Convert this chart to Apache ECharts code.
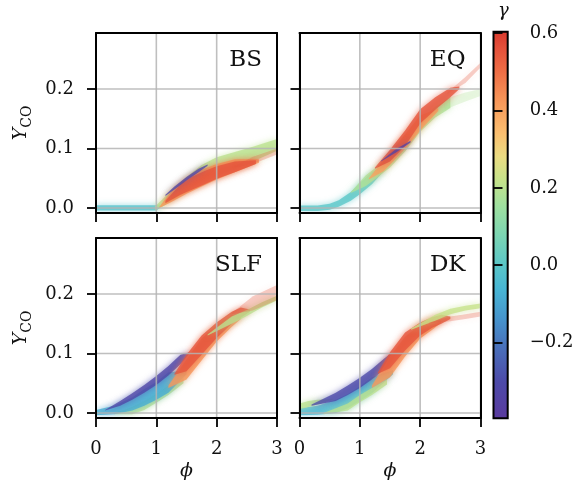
<!DOCTYPE html>
<html>
<head>
<meta charset="utf-8">
<script src="https://cdn.jsdelivr.net/npm/echarts@6/dist/echarts.min.js"></script>
<style>
  html, body { margin: 0; padding: 0; background: #fff; }
  #c { width: 581px; height: 490px; }
</style>
</head>
<body>
<div id="c"></div>
<script>
// ---------- axis ranges and ticks ----------
const PHI_RANGE = [0, 3];
const Y_RANGE = [-0.0085, 0.294];
const GAMMA_RANGE = [-0.396, 0.604];
const phiTicks = [0, 1, 2, 3];
const yTicks = [0, 0.1, 0.2];
const gammaTicks = [-0.2, 0, 0.2, 0.4, 0.6];
const panelNames = ['BS', 'EQ', 'SLF', 'DK'];

// ---------- Y_CO bands: [phi, lower, upper] ----------
// BS
const bsTeal   = [[0, -0.0045, 0.0045], [1.0, -0.0045, 0.0045], [1.06, 0.0, 0.006]];
const bsGreen  = [[0.98, -0.003, 0.003], [1.1, 0.002, 0.014], [1.25, 0.012, 0.03], [1.5, 0.028, 0.052], [1.75, 0.042, 0.072], [2.0, 0.054, 0.085], [2.3, 0.066, 0.094], [2.6, 0.078, 0.103], [3.0, 0.096, 0.116]];
const bsOrange = [[1.05, 0.0, 0.002], [1.25, 0.01, 0.028], [1.5, 0.024, 0.05], [1.75, 0.036, 0.064], [2.0, 0.048, 0.074], [2.3, 0.06, 0.082], [2.7, 0.076, 0.082]];
const bsRed    = [[1.15, 0.008, 0.012], [1.4, 0.022, 0.04], [1.6, 0.031, 0.053], [1.8, 0.04, 0.062], [2.0, 0.049, 0.07], [2.3, 0.06, 0.078], [2.65, 0.074, 0.08]];
const bsRedTail = [[2.3, 0.068, 0.07], [2.6, 0.074, 0.086], [3.0, 0.09, 0.1]];
const bsBlue   = [[1.15, 0.02, 0.022], [1.3, 0.031, 0.036], [1.5, 0.046, 0.052], [1.7, 0.06, 0.066], [1.85, 0.071, 0.073]];
// EQ
const eqTeal   = [[0, -0.005, 0.004], [0.3, -0.005, 0.004], [0.5, -0.003, 0.007], [0.65, 0.002, 0.013], [0.85, 0.012, 0.027], [1.0, 0.023, 0.042], [1.2, 0.04, 0.06], [1.4, 0.062, 0.07]];
const eqGreen  = [[0.85, 0.025, 0.027], [1.1, 0.037, 0.055], [1.3, 0.052, 0.07], [1.5, 0.068, 0.088], [1.75, 0.095, 0.115], [2.0, 0.128, 0.148], [2.25, 0.152, 0.17], [2.5, 0.168, 0.186]];
const eqGreenTail = [[2.4, 0.165, 0.183], [2.75, 0.179, 0.194], [3.0, 0.188, 0.2]];
const eqOrange = [[1.15, 0.048, 0.05], [1.4, 0.062, 0.082], [1.6, 0.083, 0.105], [1.8, 0.105, 0.13], [2.0, 0.13, 0.155], [2.3, 0.163, 0.168]];
const eqRed    = [[1.25, 0.066, 0.068], [1.5, 0.078, 0.098], [1.75, 0.104, 0.13], [2.0, 0.142, 0.166], [2.25, 0.165, 0.186], [2.5, 0.186, 0.202], [2.65, 0.2, 0.204]];
const eqRedTail = [[2.45, 0.192, 0.194], [2.75, 0.21, 0.22], [3.0, 0.236, 0.244]];
const eqBlue   = [[1.35, 0.078, 0.079], [1.6, 0.093, 0.099], [1.84, 0.11, 0.113]];
// SLF
const slfGreenLow = [[0.3, -0.002, 0.0], [0.6, -0.002, 0.01], [0.8, 0.005, 0.02], [1.0, 0.017, 0.032], [1.2, 0.03, 0.046], [1.45, 0.05, 0.058]];
const slfCyan  = [[0, -0.004, 0.005], [0.3, -0.002, 0.012], [0.6, 0.004, 0.026], [0.8, 0.012, 0.04], [1.0, 0.022, 0.052], [1.2, 0.034, 0.068], [1.5, 0.065, 0.072]];
const slfBlue  = [[0.15, 0.004, 0.005], [0.4, 0.012, 0.02], [0.6, 0.022, 0.033], [0.8, 0.034, 0.047], [1.0, 0.047, 0.062], [1.2, 0.063, 0.079], [1.4, 0.082, 0.098], [1.55, 0.1, 0.102]];
const slfOrange = [[1.2, 0.042, 0.046], [1.5, 0.056, 0.09], [1.75, 0.088, 0.125], [2.0, 0.12, 0.148], [2.25, 0.145, 0.165], [2.4, 0.158, 0.162]];
const slfRed   = [[1.3, 0.064, 0.066], [1.5, 0.07, 0.098], [1.75, 0.098, 0.13], [2.0, 0.126, 0.152], [2.25, 0.15, 0.17], [2.4, 0.16, 0.177], [2.55, 0.17, 0.174]];
const slfGreenHigh = [[1.85, 0.13, 0.132], [2.25, 0.15, 0.162], [2.5, 0.163, 0.173], [2.75, 0.177, 0.186], [3.0, 0.189, 0.197]];
const slfRedTail = [[2.25, 0.166, 0.168], [2.6, 0.172, 0.196], [3.0, 0.19, 0.215]];
// DK
const dkCyan   = [[0, -0.004, 0.008], [0.3, -0.003, 0.012], [0.6, 0.0, 0.022], [0.8, 0.008, 0.032], [1.0, 0.02, 0.045], [1.2, 0.033, 0.06], [1.55, 0.065, 0.072]];
const dkGreenStart = [[0, 0.006, 0.016], [0.15, 0.01, 0.02], [0.3, 0.014, 0.022], [0.55, 0.022, 0.024]];
const dkGreenLow = [[0.4, -0.002, 0.0], [0.8, 0.004, 0.016], [1.0, 0.018, 0.03], [1.2, 0.03, 0.042], [1.45, 0.048, 0.056]];
const dkBlue   = [[0.2, 0.012, 0.014], [0.6, 0.02, 0.034], [0.8, 0.03, 0.046], [1.0, 0.042, 0.059], [1.2, 0.056, 0.074], [1.4, 0.072, 0.091], [1.5, 0.082, 0.099], [1.58, 0.097, 0.1]];
const dkOrange = [[1.2, 0.042, 0.046], [1.5, 0.06, 0.095], [1.75, 0.095, 0.128], [2.0, 0.125, 0.148], [2.2, 0.14, 0.158], [2.35, 0.152, 0.156]];
const dkRed    = [[1.3, 0.066, 0.068], [1.5, 0.075, 0.102], [1.75, 0.105, 0.135], [2.0, 0.13, 0.152], [2.2, 0.143, 0.161], [2.35, 0.15, 0.165], [2.5, 0.158, 0.162]];
const dkGreenHigh = [[1.85, 0.14, 0.142], [2.25, 0.155, 0.165], [2.5, 0.166, 0.175], [2.75, 0.172, 0.18], [3.0, 0.176, 0.184]];
const dkRedTail = [[2.15, 0.151, 0.152], [2.5, 0.154, 0.162], [2.75, 0.158, 0.166], [3.0, 0.162, 0.17]];

// band sets per panel (drawing order) and the gamma value of each band
const bsSets  = [bsTeal, bsGreen, bsOrange, bsRed, bsRedTail, bsBlue];
const bsGamma = [-0.02, 0.2, 0.42, 0.55, 0.55, -0.33];
const eqSets  = [eqTeal, eqGreen, eqGreenTail, eqOrange, eqRed, eqRedTail, eqBlue];
const eqGamma = [0.0, 0.18, 0.18, 0.4, 0.55, 0.55, -0.35];
const slfSets  = [slfGreenLow, slfCyan, slfBlue, slfOrange, slfRed, slfGreenHigh, slfRedTail];
const slfGamma = [0.2, -0.08, -0.32, 0.42, 0.55, 0.2, 0.55];
const dkSets  = [dkCyan, dkGreenStart, dkGreenLow, dkBlue, dkOrange, dkRed, dkGreenHigh, dkRedTail];
const dkGamma = [-0.05, 0.2, 0.2, -0.3, 0.42, 0.55, 0.22, 0.55];

const panelSets = [bsSets, eqSets, slfSets, dkSets];
const panelGamma = [bsGamma, eqGamma, slfGamma, dkGamma];

// ---------- styling ----------
const FONT = 'DejaVu Serif';
const INK = '#111111';
const GRID_COLOR = '#b4b4b4';
const faintBands = new Set([bsRedTail, eqGreenTail, eqRedTail, slfRedTail, dkRedTail]);

// colormap stops for gamma
const CMAP = [
  [-0.396, '#5a3a9e'], [-0.3, '#4d4aa9'], [-0.22, '#4a6cb8'], [-0.14, '#4693cc'],
  [-0.06, '#48b6d4'], [0.0, '#5ac6c8'], [0.08, '#7dd6b2'], [0.15, '#9ee0a0'],
  [0.22, '#c6e38a'], [0.28, '#ebdc82'], [0.34, '#fbbf70'], [0.42, '#f7985a'],
  [0.5, '#ee6d45'], [0.56, '#e4503a'], [0.604, '#d8382c']
];
function hexRgb(h) { return [1, 3, 5].map(i => parseInt(h.slice(i, i + 2), 16)); }
function gammaColor(g, alpha) {
  let i = 0;
  while (i < CMAP.length - 2 && g > CMAP[i + 1][0]) i++;
  const [g0, c0] = CMAP[i], [g1, c1] = CMAP[i + 1];
  const t = Math.max(0, Math.min(1, (g - g0) / (g1 - g0)));
  const a = hexRgb(c0), b = hexRgb(c1);
  const rgb = a.map((v, k) => Math.round(v + (b[k] - v) * t));
  return `rgba(${rgb[0]},${rgb[1]},${rgb[2]},${alpha})`;
}

// ---------- layout ----------
const PW = 181, PH = 180;
const panels = [
  { left: 96, top: 33 }, { left: 299.5, top: 33 },
  { left: 96, top: 238 }, { left: 299.5, top: 238 }
];
const CBAR = { left: 493.5, top: 31.7, width: 14.2, height: 386.6 };
const CBAR_AXIS = 8; // axis index of the colorbar (after 4 bottom/left + 4 top/right axes)

const grids = panels.map(p => ({ left: p.left, top: p.top, width: PW, height: PH, outerBoundsMode: 'none' }));
grids.push({ left: CBAR.left, top: CBAR.top, width: CBAR.width, height: CBAR.height, outerBoundsMode: 'none' });

const spine = { show: true, onZero: false, lineStyle: { color: '#000', width: 2 } };
const tickStyle = { lineStyle: { color: '#000', width: 1.8 } };
const labelFont = { color: INK, fontFamily: FONT, fontSize: 18 };

const xAxes = [], yAxes = [];
panels.forEach((p, i) => {
  xAxes.push({
    gridIndex: i, type: 'value', min: PHI_RANGE[0], max: PHI_RANGE[1], interval: 1,
    position: 'bottom', z: 10,
    axisLine: spine,
    axisTick: Object.assign({ show: true, length: 9, inside: false }, tickStyle),
    axisLabel: Object.assign({ show: i >= 2, margin: 22, formatter: v => String(v) }, labelFont),
    splitLine: { show: false },
    name: i >= 2 ? 'ϕ' : '', nameLocation: 'middle', nameGap: 44,
    nameTextStyle: { fontFamily: FONT, fontSize: 19, fontStyle: 'italic', color: INK }
  });
  yAxes.push({
    gridIndex: i, type: 'value', min: Y_RANGE[0], max: Y_RANGE[1],
    position: 'left', z: 10,
    axisLine: spine,
    axisTick: Object.assign({ show: true, length: 9, customValues: yTicks }, tickStyle),
    axisLabel: Object.assign({ show: i % 2 === 0, margin: 22, customValues: yTicks, formatter: v => v.toFixed(1) }, labelFont),
    splitLine: { show: false },
    name: i % 2 === 0 ? '{i|Y}{s|CO}' : '', nameLocation: 'middle', nameGap: 62, nameRotate: 90,
    nameTextStyle: {
      color: INK,
      rich: {
        i: { fontFamily: FONT, fontSize: 19, fontStyle: 'italic', color: INK, lineHeight: 22, verticalAlign: 'top' },
        s: { fontFamily: FONT, fontSize: 14, color: INK, lineHeight: 22, verticalAlign: 'bottom' }
      }
    }
  });
});
// top and right spines of each panel
panels.forEach((p, i) => {
  xAxes.push({ gridIndex: i, type: 'value', min: PHI_RANGE[0], max: PHI_RANGE[1], position: 'top', z: 10,
    axisLine: spine, axisTick: { show: false }, axisLabel: { show: false }, splitLine: { show: false } });
  yAxes.push({ gridIndex: i, type: 'value', min: Y_RANGE[0], max: Y_RANGE[1], position: 'right', z: 10,
    axisLine: spine, axisTick: { show: false }, axisLabel: { show: false }, splitLine: { show: false } });
});
// colorbar axes
xAxes.push({ gridIndex: 4, type: 'value', min: 0, max: 1, show: false });
yAxes.push({
  gridIndex: 4, type: 'value', min: GAMMA_RANGE[0], max: GAMMA_RANGE[1], position: 'right', z: 10,
  axisLine: { show: false },
  axisTick: Object.assign({ show: true, length: 9, customValues: gammaTicks }, tickStyle),
  axisLabel: Object.assign({ margin: 22, customValues: gammaTicks,
    formatter: v => (v < 0 ? '\u2212' : '') + Math.abs(v).toFixed(1) }, labelFont),
  splitLine: { show: false }
});

// ---------- series ----------
const series = [];
panels.forEach((p, i) => {
  panelSets[i].forEach((pts, k) => {
    const faint = faintBands.has(pts);
    const color = gammaColor(panelGamma[i][k], faint ? 0.28 : 0.78);
    series.push({
      type: 'custom', xAxisIndex: i, yAxisIndex: i, clip: true, silent: true, z: 2,
      data: pts,
      renderItem: (params, api) => {
        if (params.dataIndex !== 0) return null;
        const upper = pts.map(d => api.coord([d[0], d[2]]));
        const lower = pts.map(d => api.coord([d[0], d[1]])).reverse();
        return {
          type: 'polygon',
          shape: { points: upper.concat(lower) },
          style: { fill: color, shadowBlur: faint ? 7 : 6, shadowColor: color }
        };
      }
    });
  });
  // grid lines drawn over the data
  series.push({
    type: 'custom', xAxisIndex: i, yAxisIndex: i, silent: true, z: 5,
    data: yTicks.map(v => [PHI_RANGE[0], v]),
    renderItem: (params, api) => {
      const a = api.coord([PHI_RANGE[0], api.value(1)]);
      const b = api.coord([PHI_RANGE[1], api.value(1)]);
      return { type: 'line', shape: { x1: a[0], y1: a[1], x2: b[0], y2: b[1] },
        style: { stroke: GRID_COLOR, lineWidth: 1.6, opacity: 0.85 } };
    }
  });
  series.push({
    type: 'custom', xAxisIndex: i, yAxisIndex: i, silent: true, z: 5,
    data: phiTicks.map(v => [v, Y_RANGE[0]]),
    renderItem: (params, api) => {
      const a = api.coord([api.value(0), Y_RANGE[0]]);
      const b = api.coord([api.value(0), Y_RANGE[1]]);
      return { type: 'line', shape: { x1: a[0], y1: a[1], x2: b[0], y2: b[1] },
        style: { stroke: GRID_COLOR, lineWidth: 1.6, opacity: 0.85 } };
    }
  });
});
// colorbar
series.push({
  type: 'custom', xAxisIndex: CBAR_AXIS, yAxisIndex: CBAR_AXIS, silent: true, z: 2,
  data: [[0, GAMMA_RANGE[0]]],
  renderItem: (params, api) => {
    const tl = api.coord([0, GAMMA_RANGE[1]]);
    const br = api.coord([1, GAMMA_RANGE[0]]);
    const span = GAMMA_RANGE[1] - GAMMA_RANGE[0];
    const stops = CMAP.map(([g, c]) => ({ offset: (g - GAMMA_RANGE[0]) / span, color: c }));
    return {
      type: 'rect',
      shape: { x: tl[0], y: tl[1], width: br[0] - tl[0], height: br[1] - tl[1] },
      style: { fill: new echarts.graphic.LinearGradient(0, 1, 0, 0, stops), stroke: '#000', lineWidth: 2 }
    };
  }
});

// ---------- panel captions ----------
const graphic = panels.map((p, i) => ({
  type: 'text', z: 20, silent: true,
  x: p.left + PW - 15, y: p.top + 27,
  style: { text: panelNames[i], fontFamily: FONT, fontSize: 23, fill: INK, align: 'right', verticalAlign: 'middle' }
}));
graphic.push({
  type: 'text', z: 20, silent: true, x: 503.5, y: 11,
  style: { text: 'γ', fontFamily: FONT, fontSize: 18, fontStyle: 'italic', fill: INK, align: 'center', verticalAlign: 'middle' }
});

const chart = echarts.init(document.getElementById('c'), null, { renderer: 'canvas' });
chart.setOption({
  animation: false,
  backgroundColor: '#fff',
  grid: grids,
  xAxis: xAxes,
  yAxis: yAxes,
  series: series,
  graphic: graphic
});
</script>
</body>
</html>
